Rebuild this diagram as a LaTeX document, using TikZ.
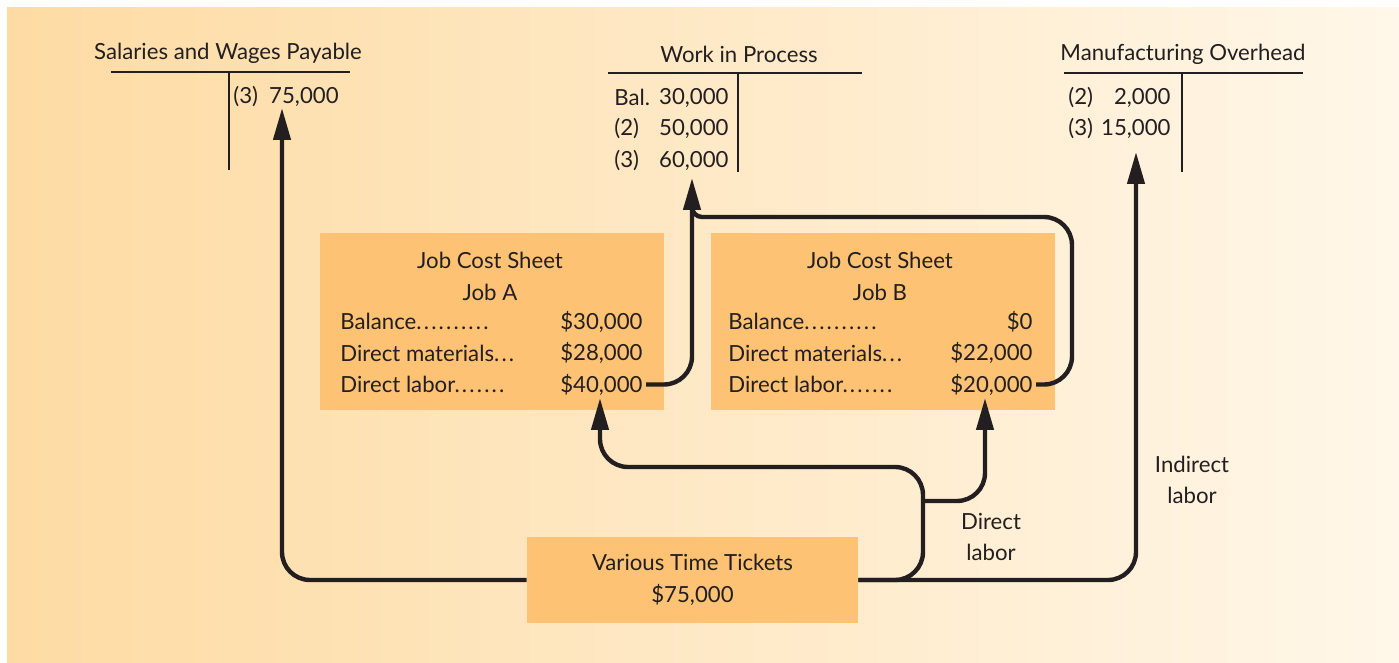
\documentclass[tikz,border=0pt]{standalone}
\usepackage{fontspec}
\setmainfont{Lato}
\usetikzlibrary{arrows.meta}
\definecolor{sheet}{RGB}{253,194,116}
\definecolor{bgleft}{RGB}{254,219,163}
\definecolor{bgright}{RGB}{255,247,233}
\definecolor{ink}{RGB}{35,31,32}
\newcommand{\dotrun}[1]{\foreach \k in {1,...,#1}{.\kern1.1pt}}

\begin{document}
\begin{tikzpicture}[x=0.5pt, y=-0.5pt,
    every node/.style={font=\fontsize{11.1}{13.3}\selectfont, text=ink, inner sep=0pt},
    sheet/.style={fill=sheet, minimum width=172pt, minimum height=88.5pt},
    tline/.style={draw=ink, line width=1pt},
    wire/.style={draw=ink, line width=2.2pt, rounded corners=14pt},
    flow/.style={wire, -{Triangle[length=16pt,width=8.5pt]}}]
  \useasboundingbox (0,0) rectangle (1399,663);
  \fill[left color=bgleft, right color=bgright] (7,8) rectangle (1400,665);

  % T-accounts
  \node (SWP) at (228,53) {Salaries and Wages Payable};
  \node (WIP) at (739,54) {Work in Process};
  \node (MOH) at (1183,54) {Manufacturing Overhead};
  \draw[tline] (111,72) -- (350,72) (229,72) -- (229,170);
  \draw[tline] (608,73) -- (862,73) (738,73) -- (738,172);
  \draw[tline] (1064,73) -- (1303,73) (1182,73) -- (1182,172);

  \node[anchor=west] (SWP3) at (233,97) {(3)\enspace 75,000};
  \foreach \lab/\amt [count=\i] in {Bal./{30,000}, (2)/{50,000}, (3)/{60,000}} {
    \node[anchor=west] (WIPl\i) at (614,66+31.5*\i) {\lab};
    \node[anchor=east] (WIPa\i) at (729,66+31.5*\i) {\amt};
  }
  \foreach \lab/\amt [count=\i] in {(2)/{2,000}, (3)/{15,000}} {
    \node[anchor=west] (MOHl\i) at (1068,66+31.5*\i) {\lab};
    \node[anchor=east] (MOHa\i) at (1171,66+31.5*\i) {\amt};
  }

  % job cost sheets
  \node[sheet] (JA) at (492,321.5) {};
  \node (JAt) at (490,260) {Job Cost Sheet};
  \node (JAn) at (490,292) {Job A};
  \foreach \lab/\amt [count=\i] in {{Balance\dotrun{10}}/{\$30,000},
      {Direct materials\dotrun{3}}/{\$28,000}, {Direct labor\dotrun{7}}/{\$40,000}} {
    \node[anchor=west] (JAl\i) at (340,290+31.5*\i) {\lab};
    \node[anchor=east, inner sep=1.5pt] (JAa\i) at (646,290+31.5*\i) {\amt};
  }

  \node[sheet] (JB) at (883,321.5) {};
  \node (JBt) at (880,260) {Job Cost Sheet};
  \node (JBn) at (880,292) {Job B};
  \foreach \lab/\amt [count=\i] in {{Balance\dotrun{10}}/{\$0},
      {Direct materials\dotrun{3}}/{\$22,000}, {Direct labor\dotrun{7}}/{\$20,000}} {
    \node[anchor=west] (JBl\i) at (728,290+31.5*\i) {\lab};
    \node[anchor=east, inner sep=1.5pt] (JBa\i) at (1036,290+31.5*\i) {\amt};
  }

  \node[sheet, minimum width=165.5pt, minimum height=43pt, align=center,
    font=\fontsize{11.1}{16}\selectfont] (VTT) at (692.5,580) {Various Time Tickets\\\$75,000};

  \node[align=center, font=\fontsize{11.1}{15.5}\selectfont] (DL) at (991,537) {Direct\\labor};
  \node[align=center, font=\fontsize{11.1}{15.5}\selectfont] (IL) at (1192,480) {Indirect\\labor};

  \coordinate (swp in) at (282,108);
  \coordinate (wip in) at (692,178);
  \coordinate (moh in) at (1136,152);
  \coordinate (ja in) at (600,398);
  \coordinate (jb in) at (985,398);
  \coordinate (fork) at (923,467);
  \coordinate (split) at (923,501);
  \coordinate (loopB) at (1072,217);
  \coordinate (merge) at (692,200);

  \draw[flow] (VTT.west) -| (swp in);
  \draw[flow] (VTT.east) -| (moh in);
  \draw[flow] (VTT.east) -| (fork) -| (ja in);
  \draw[flow] (split) -| (jb in);
  \draw[flow] (JAa3.east) -| (wip in);
  \draw[wire] (JBa3.east) -| (loopB) [rounded corners=5pt] -| (merge);
\end{tikzpicture}
\end{document}
